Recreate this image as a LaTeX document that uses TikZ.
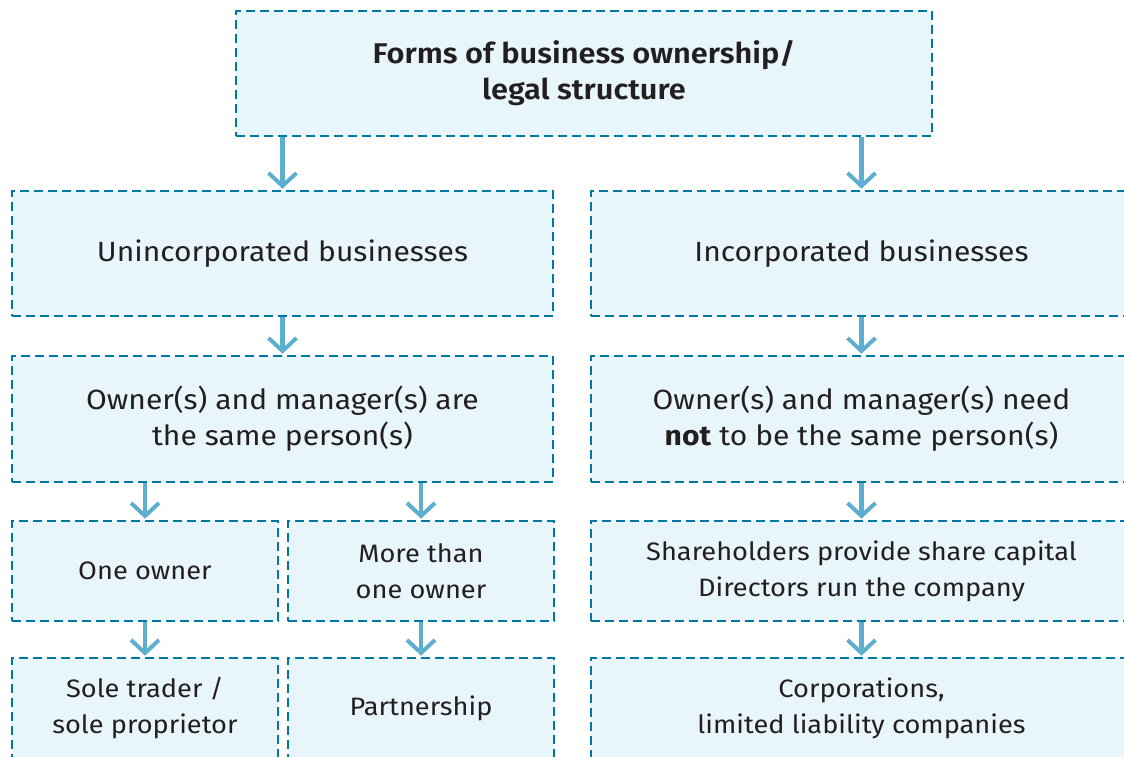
\documentclass[tikz,border=0pt]{standalone}
\usepackage{fontspec}
\setmainfont{Fira Sans}[FakeStretch=1.08]
\newfontfamily\titlefont{Fira Sans SemiBold}[FakeStretch=1.08]
\usetikzlibrary{arrows.meta}
\definecolor{boxfill}{RGB}{232,245,251}
\definecolor{boxline}{RGB}{0,120,164}
\definecolor{arrcol}{RGB}{94,174,208}
\definecolor{txt}{RGB}{35,31,32}
\tikzset{
  box/.style={draw=boxline, fill=boxfill, line width=2.6pt, dash pattern=on 9pt off 5pt,
    inner sep=0pt, align=center, text=txt, font=\fontsize{27.8}{36}\selectfont},
  smallbox/.style={box, font=\fontsize{25.2}{36}\selectfont},
  arr/.style={draw=arrcol, line width=4.5pt, -{Straight Barb[length=13pt,width=28pt,line width=4pt]}, shorten >=1pt}
}
\begin{document}
\begin{tikzpicture}[x=1pt,y=-1pt]
\useasboundingbox (0,0) rectangle (1124,756);
\clip (0,0) rectangle (1124,756);
\node[box, minimum width=696pt, minimum height=125pt, font=\fontsize{28.5}{36}\selectfont\titlefont] (top) at (584,73.5) {Forms of business ownership/\\legal structure};
\node[box, minimum width=541pt, minimum height=125pt] (ul) at (282.5,253.5) {Unincorporated businesses};
\node[box, minimum width=541pt, minimum height=125pt] (ur) at (861.5,253.5) {Incorporated businesses};
\node[box, minimum width=541pt, minimum height=126pt] (ml) at (282.5,419) {Owner(s) and manager(s) are\\the same person(s)};
\node[box, minimum width=541pt, minimum height=126pt] (mr) at (861.5,419) {Owner(s) and manager(s) need\\\textbf{not} to be the same person(s)};
\node[smallbox, minimum width=266pt, minimum height=100pt] (oa) at (145,571) {One owner};
\node[smallbox, minimum width=266pt, minimum height=100pt] (ob) at (421,571) {More than\\one owner};
\node[smallbox, minimum width=541pt, minimum height=100pt] (sr) at (861.5,571) {Shareholders provide share capital\\Directors run the company};
\node[smallbox, minimum width=266pt, minimum height=100pt] (fa) at (145,708) {Sole trader /\\sole proprietor};
\node[smallbox, minimum width=266pt, minimum height=100pt] (fb) at (421,708) {Partnership};
\node[smallbox, minimum width=541pt, minimum height=100pt] (fr) at (861.5,708) {Corporations,\\limited liability companies};
\draw[arr] (top.south -| ul.north) -- (ul.north);
\draw[arr] (top.south -| ur.north) -- (ur.north);
\draw[arr] (ul) -- (ml);
\draw[arr] (ur) -- (mr);
\draw[arr] (ml.south -| oa.north) -- (oa.north);
\draw[arr] (ml.south -| ob.north) -- (ob.north);
\draw[arr] (mr) -- (sr);
\draw[arr] (oa) -- (fa);
\draw[arr] (ob) -- (fb);
\draw[arr] (sr) -- (fr);
\end{tikzpicture}
\end{document}
